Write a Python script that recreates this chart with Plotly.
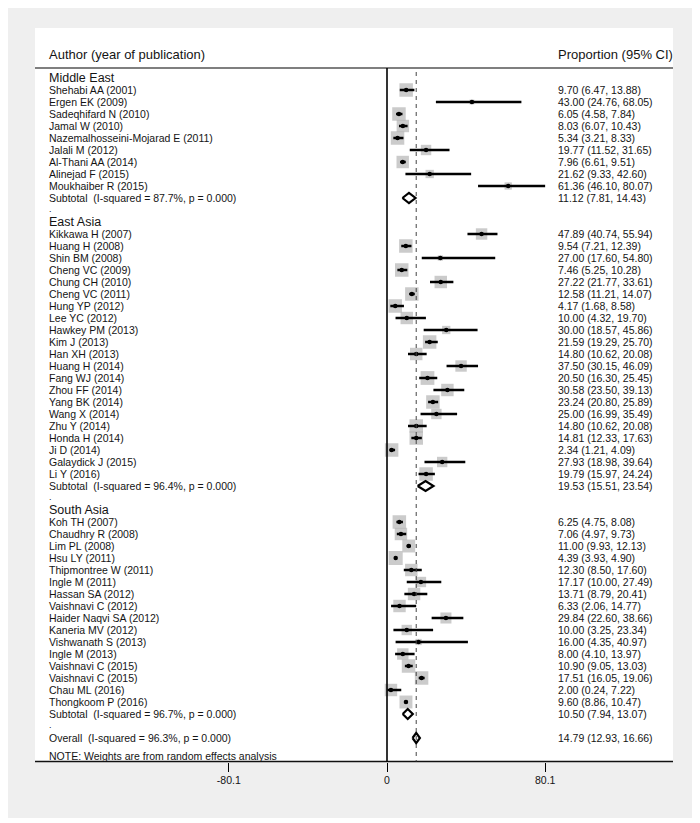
import math
import plotly.graph_objects as go

# viewport is 700x823; the page body adds an 8px margin, so the figure is 8px smaller
VIEW_W, VIEW_H = 700, 823
OFF = 8
W, H = VIEW_W - OFF, VIEW_H - OFF

# ------------------------------------------------------------------ data
regions = ["Middle East", "East Asia", "South Asia"]

me_names = ["Shehabi AA (2001)", "Ergen EK (2009)", "Sadeqhifard N (2010)", "Jamal W (2010)",
            "Nazemalhosseini-Mojarad E (2011)", "Jalali M (2012)", "Al-Thani AA (2014)",
            "Alinejad F (2015)", "Moukhaiber R (2015)"]
me_est = [9.70, 43.00, 6.05, 8.03, 5.34, 19.77, 7.96, 21.62, 61.36]
me_lo = [6.47, 24.76, 4.58, 6.07, 3.21, 11.52, 6.61, 9.33, 46.10]
me_hi = [13.88, 68.05, 7.84, 10.43, 8.33, 31.65, 9.51, 42.60, 80.07]
me_wt = [2.40, 0.30, 2.40, 2.04, 2.40, 1.42, 2.04, 0.91, 0.70]

ea_names = ["Kikkawa H (2007)", "Huang H (2008)", "Shin BM (2008)", "Cheng VC (2009)",
            "Chung CH (2010)", "Cheng VC (2011)", "Hung YP (2012)", "Lee YC (2012)",
            "Hawkey PM (2013)", "Kim J (2013)", "Han XH (2013)", "Huang H (2014)",
            "Fang WJ (2014)", "Zhou FF (2014)", "Yang BK (2014)", "Wang X (2014)",
            "Zhu Y (2014)", "Honda H (2014)", "Ji D (2014)", "Galaydick J (2015)", "Li Y (2016)"]
ea_est = [47.89, 9.54, 27.00, 7.46, 27.22, 12.58, 4.17, 10.00, 30.00, 21.59, 14.80, 37.50,
          20.50, 30.58, 23.24, 25.00, 14.80, 14.81, 2.34, 27.93, 19.79]
ea_lo = [40.74, 7.21, 17.60, 5.25, 21.77, 11.21, 1.68, 4.32, 18.57, 19.29, 10.62, 30.15,
         16.30, 23.50, 20.80, 16.99, 10.62, 12.33, 1.21, 18.98, 15.97]
ea_hi = [55.94, 12.39, 54.80, 10.28, 33.61, 14.07, 8.58, 19.70, 45.86, 25.70, 20.08, 46.09,
         25.45, 39.13, 25.89, 35.49, 20.08, 17.63, 4.09, 39.64, 24.24]
ea_wt = [1.72, 2.40, 0.36, 2.40, 2.04, 2.40, 2.40, 2.04, 0.91, 2.40, 2.04, 1.72,
         2.50, 2.04, 2.40, 1.42, 2.40, 2.40, 2.40, 1.42, 2.40]

sa_names = ["Koh TH (2007)", "Chaudhry R (2008)", "Lim PL (2008)", "Hsu LY (2011)",
            "Thipmontree W (2011)", "Ingle M (2011)", "Hassan SA (2012)", "Vaishnavi C (2012)",
            "Haider Naqvi SA (2012)", "Kaneria MV (2012)", "Vishwanath S (2013)", "Ingle M (2013)",
            "Vaishnavi C (2015)", "Vaishnavi C (2015)", "Chau ML (2016)", "Thongkoom P (2016)"]
sa_est = [6.25, 7.06, 11.00, 4.39, 12.30, 17.17, 13.71, 6.33, 29.84, 10.00, 16.00, 8.00,
          10.90, 17.51, 2.00, 9.60]
sa_lo = [4.75, 4.97, 9.93, 3.93, 8.50, 10.00, 8.79, 2.06, 22.60, 3.25, 4.35, 4.10,
         9.05, 16.05, 0.24, 8.86]
sa_hi = [8.08, 9.73, 12.13, 4.90, 17.60, 27.49, 20.41, 14.77, 38.66, 23.34, 40.97, 13.97,
         13.03, 19.06, 7.22, 10.47]
sa_wt = [2.40, 2.04, 2.20, 2.60, 2.04, 1.42, 2.04, 2.04, 1.60, 1.42, 0.51, 1.72,
         2.40, 2.40, 2.04, 2.20]

sub_i2 = [87.7, 96.4, 96.7]
sub_p = [0.000, 0.000, 0.000]
sub_est = [11.12, 19.53, 10.50]
sub_lo = [7.81, 15.51, 7.94]
sub_hi = [14.43, 23.54, 13.07]

overall_i2 = 96.3
overall_p = 0.000
overall_est = 14.79
overall_lo = 12.93
overall_hi = 16.66

tick_vals = [-80.1, 0, 80.1]
tick_text = ["-80.1", "0", "80.1"]

header_left = "Author (year of publication)"
header_right = "Proportion (95% CI)"
note_text = "NOTE: Weights are from random effects analysis"

# ------------------------------------------------------------------ layout geometry (viewport px)
X0_PX, PX_PER_UNIT = 387.0, 1.975          # viewport pixel of x=0, pixels per unit
Y0_PX, ROW_PX = 90.0, 12.0                  # viewport pixel of row 0, pixels per row
x_range = [(OFF - X0_PX) / PX_PER_UNIT, (VIEW_W - X0_PX) / PX_PER_UNIT]
y_range = [(VIEW_H - Y0_PX) / ROW_PX, (OFF - Y0_PX) / ROW_PX]


def pxx(px):
    return (px - OFF) / W


def pxy(py):
    return 1 - (py - OFF) / H


def row_of(py):
    return (py - Y0_PX) / ROW_PX


FONT = "Liberation Sans, Arial, Helvetica, sans-serif"
TXT = "#141414"
LEFT_X = pxx(47)
RIGHT_X = pxx(556)

groups = [
    (me_names, me_est, me_lo, me_hi, me_wt),
    (ea_names, ea_est, ea_lo, ea_hi, ea_wt),
    (sa_names, sa_est, sa_lo, sa_hi, sa_wt),
]

annotations = []
s_x, s_y, s_size = [], [], []
c_x, c_y, c_plus, c_minus = [], [], [], []
d_x, d_y = [], []
DH = 0.42


def fmt(e, l, h):
    return f"{e:.2f} ({l:.2f}, {h:.2f})"


def add_text(x, y, text, size=10.5):
    annotations.append(dict(x=x, y=y, xref="paper", yref="y", text=text, showarrow=False,
                            xanchor="left", yanchor="middle",
                            font=dict(family=FONT, size=size, color=TXT)))


def add_diamond(e, l, h, r):
    d_x.extend([l, e, h, e, l, None])
    d_y.extend([r, r - DH, r, r + DH, r, None])


r = -1
for gi, (names, est, lo, hi, wt) in enumerate(groups):
    add_text(LEFT_X, r, regions[gi], size=12.5)
    r += 1
    for n, e, l, h, w in zip(names, est, lo, hi, wt):
        add_text(LEFT_X, r, n)
        add_text(RIGHT_X, r, fmt(e, l, h))
        s_x.append(e); s_y.append(r); s_size.append(13.5 * math.sqrt(w / 2.4))
        c_x.append(e); c_y.append(r); c_plus.append(h - e); c_minus.append(e - l)
        r += 1
    add_text(LEFT_X, r, f"Subtotal\u00a0 (I-squared = {sub_i2[gi]:.1f}%, p = {sub_p[gi]:.3f})")
    add_text(RIGHT_X, r, fmt(sub_est[gi], sub_lo[gi], sub_hi[gi]))
    add_diamond(sub_est[gi], sub_lo[gi], sub_hi[gi], r)
    r += 1
    add_text(LEFT_X, r - 0.1, ".", size=9)
    r += 1

add_text(LEFT_X, r, f"Overall\u00a0 (I-squared = {overall_i2:.1f}%, p = {overall_p:.3f})")
add_text(RIGHT_X, r, fmt(overall_est, overall_lo, overall_hi))
add_diamond(overall_est, overall_lo, overall_hi, r)
add_text(LEFT_X, r + 1.5, note_text)

# headers
for hx, htxt in ((LEFT_X, header_left), (RIGHT_X, header_right)):
    annotations.append(dict(x=hx, y=row_of(54), xref="paper", yref="y", text=htxt,
                            showarrow=False, xanchor="left", yanchor="middle",
                            font=dict(family=FONT, size=13, color=TXT)))

fig = go.Figure()

fig.add_trace(go.Scatter(x=s_x, y=s_y, mode="markers", hoverinfo="skip",
                         marker=dict(symbol="square", size=s_size, color="#b5b5b5",
                                     line=dict(width=0))))
fig.add_trace(go.Scatter(x=c_x, y=c_y, mode="markers", hoverinfo="skip",
                         marker=dict(symbol="circle", size=4.5, color="#000000"),
                         error_x=dict(type="data", symmetric=False, array=c_plus,
                                      arrayminus=c_minus, thickness=2.5, width=0,
                                      color="#000000")))
fig.add_trace(go.Scatter(x=d_x, y=d_y, mode="lines", hoverinfo="skip",
                         line=dict(color="#000000", width=2.2)))

line_bottom_row = row_of(761.5)
shapes = [
    dict(type="rect", xref="paper", yref="paper", x0=pxx(5), x1=pxx(697), y0=pxy(818), y1=pxy(4),
         fillcolor="#efefef", line=dict(width=0), layer="below"),
    dict(type="rect", xref="paper", yref="paper", x0=pxx(35), x1=pxx(673), y0=pxy(761.5), y1=pxy(28),
         fillcolor="#ffffff", line=dict(width=0), layer="below"),
    dict(type="line", xref="paper", yref="paper", x0=pxx(35), x1=pxx(673), y0=pxy(68), y1=pxy(68),
         line=dict(color="#555555", width=1.5)),
    dict(type="line", xref="paper", yref="paper", x0=pxx(35), x1=pxx(673), y0=pxy(761.5), y1=pxy(761.5),
         line=dict(color="#111111", width=1.5)),
    dict(type="line", xref="x", yref="y", x0=0, x1=0, y0=row_of(68), y1=line_bottom_row,
         line=dict(color="#000000", width=1.6)),
    dict(type="line", xref="x", yref="y", x0=overall_est, x1=overall_est, y0=row_of(72),
         y1=line_bottom_row, line=dict(color="#444444", width=1, dash="4px,4px")),
]

fig.update_layout(
    width=W, height=H, margin=dict(l=0, r=0, t=0, b=0),
    paper_bgcolor="#ffffff", plot_bgcolor="rgba(0,0,0,0)",
    showlegend=False, shapes=shapes, annotations=annotations,
    xaxis=dict(range=x_range, domain=[0, 1], anchor="free", position=pxy(761.5),
               showgrid=False, zeroline=False, showline=False,
               ticks="outside", ticklen=9, tickwidth=1.2, tickcolor="#000000",
               tickvals=tick_vals, ticktext=tick_text,
               tickfont=dict(family=FONT, size=10.5, color=TXT), fixedrange=True),
    yaxis=dict(range=y_range, domain=[0, 1], visible=False, fixedrange=True),
)

fig.write_html("out.html")
